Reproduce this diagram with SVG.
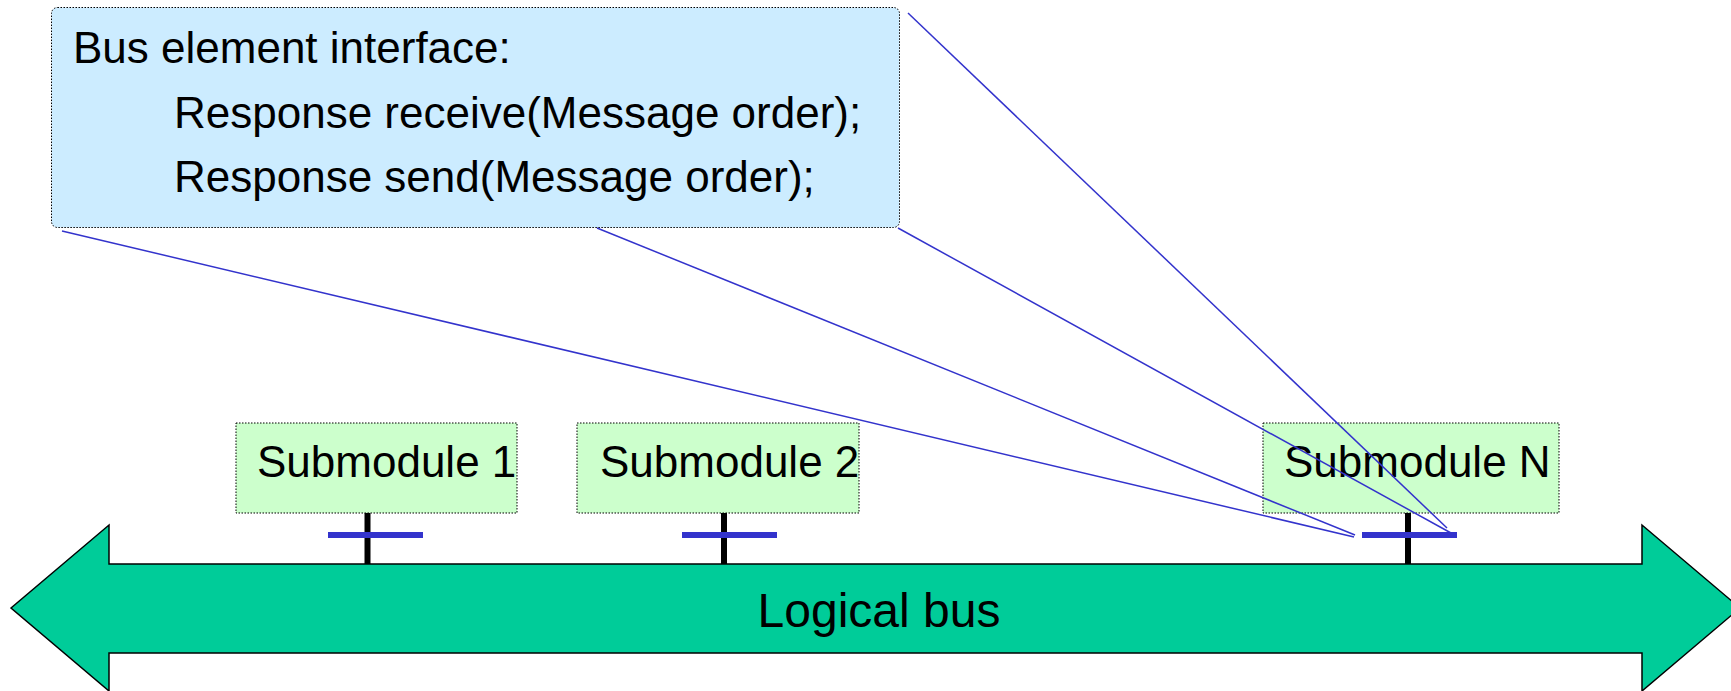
<svg xmlns="http://www.w3.org/2000/svg" width="1731" height="691" viewBox="0 0 1731 691">
  <style>
    text { font-family: "Liberation Sans", Arial, sans-serif; fill: #000; }
    .callout { fill: #CCECFF; stroke: #000; stroke-width: 1; stroke-dasharray: 1.5 1.5; }
    .module { fill: #CCFFCC; stroke: #000; stroke-width: 1; stroke-dasharray: 1.5 1.5; }
    .label { font-size: 44px; }
    .stem { stroke: #000; stroke-width: 6; }
    .port { stroke: #3333CC; stroke-width: 6; }
    .link { stroke: #3333CC; stroke-width: 1.5; fill: none; }
    .bus { fill: #00CC99; stroke: #000; stroke-width: 1.5; stroke-linejoin: miter; }
  </style>

  <!-- Logical bus: double-headed block arrow -->
  <g id="logical-bus">
    <polygon class="bus" points="11,608 109,525 109,564 1642,564 1642,525 1740,608 1642,691 1642,653 109,653 109,691"/>
    <text x="879" y="627" font-size="48" text-anchor="middle">Logical bus</text>
  </g>

  <!-- Submodules with their bus taps -->
  <g id="submodule-1">
    <line class="stem" x1="367.5" y1="513" x2="367.5" y2="564"/>
    <line class="port" x1="328" y1="535" x2="423" y2="535"/>
    <rect class="module" x="236" y="423" width="281" height="90"/>
    <text class="label" x="257" y="477">Submodule 1</text>
  </g>

  <g id="submodule-2">
    <line class="stem" x1="724" y1="513" x2="724" y2="564"/>
    <line class="port" x1="682" y1="535" x2="777" y2="535"/>
    <rect class="module" x="577" y="423" width="282" height="90"/>
    <text class="label" x="600" y="477">Submodule 2</text>
  </g>

  <g id="submodule-n">
    <line class="stem" x1="1408" y1="513" x2="1408" y2="564"/>
    <line class="port" x1="1362" y1="535" x2="1457" y2="535"/>
    <rect class="module" x="1263" y="423" width="296" height="90"/>
    <text class="label" x="1284" y="477">Submodule N</text>
  </g>

  <!-- Interface callout -->
  <g id="interface-callout">
    <rect class="callout" x="51.5" y="7.5" width="848" height="220" rx="6" ry="6"/>
    <text class="label" x="73" y="63">Bus element interface:</text>
    <text class="label" x="174" y="128">Response receive(Message order);</text>
    <text class="label" x="174" y="192">Response send(Message order);</text>
  </g>

  <!-- Zoom lines from the callout to the Submodule N port -->
  <g id="connectors">
    <line class="link" x1="62" y1="231" x2="1354" y2="537"/>
    <line class="link" x1="597" y1="228" x2="1355" y2="535"/>
    <line class="link" x1="898" y1="228" x2="1451" y2="533"/>
    <line class="link" x1="908" y1="13" x2="1447" y2="528"/>
  </g>
</svg>
